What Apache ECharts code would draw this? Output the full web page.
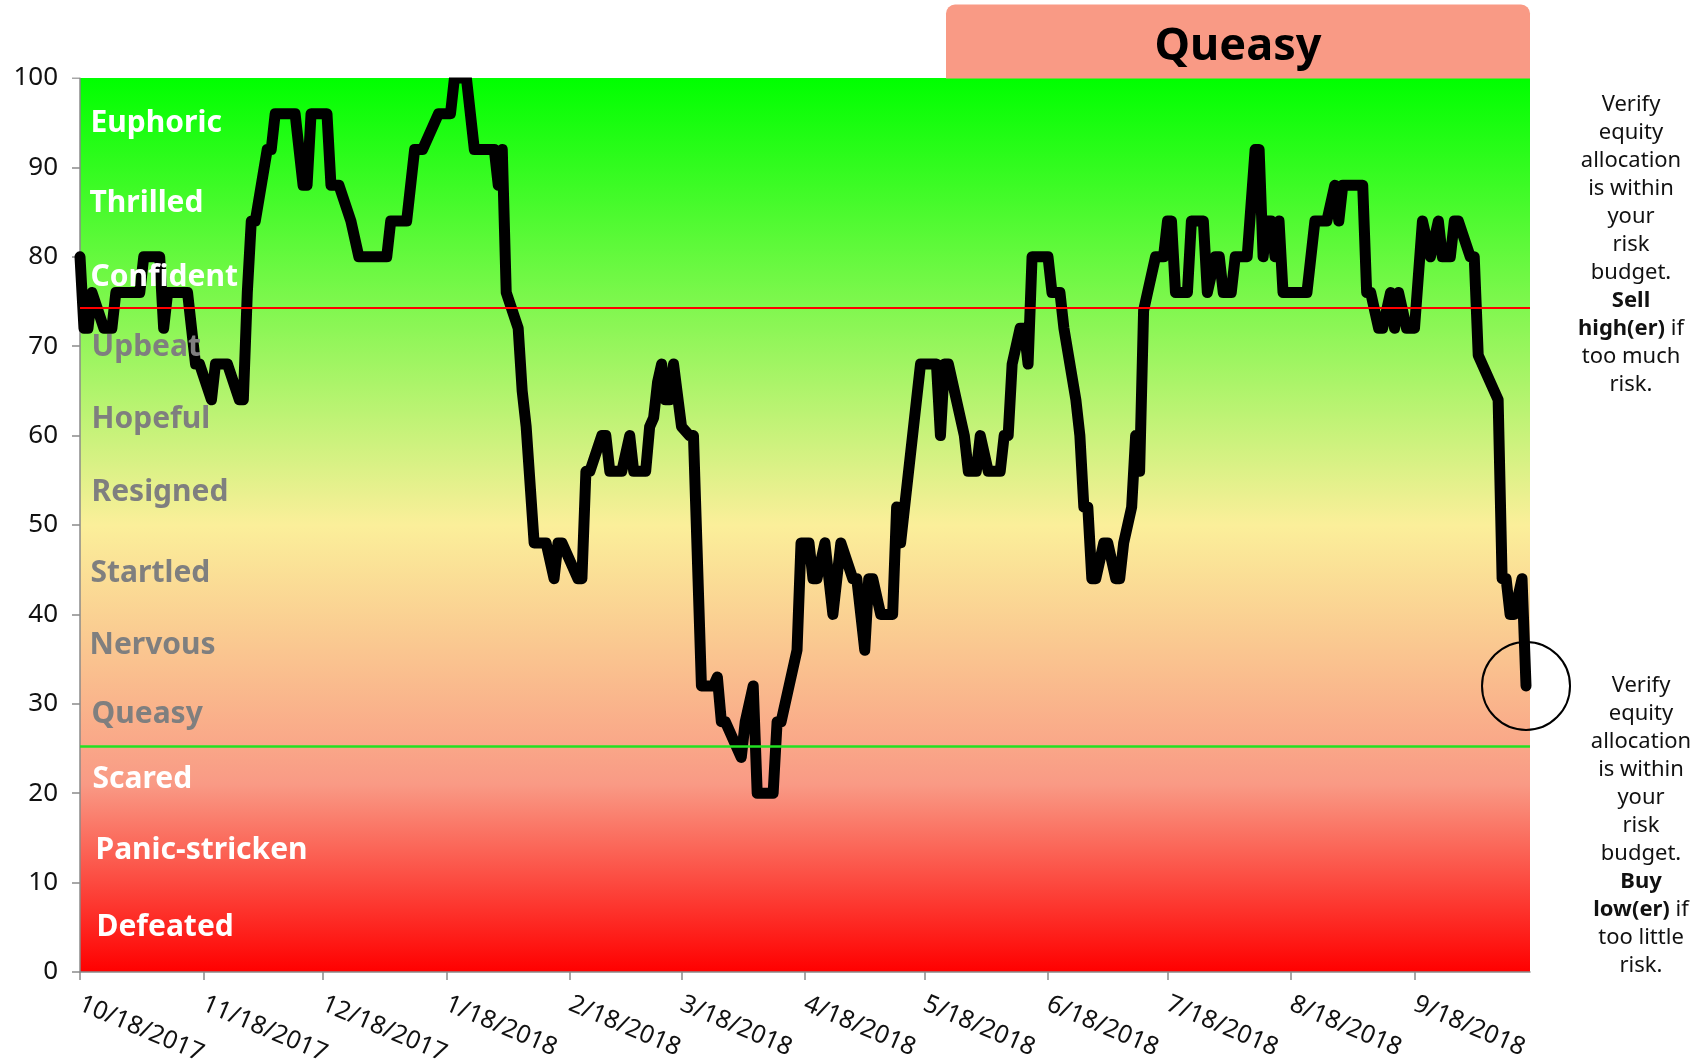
<!DOCTYPE html>
<html>
<head>
<meta charset="utf-8">
<title>Market mood gauge</title>
<script src="https://cdn.jsdelivr.net/npm/echarts@6/dist/echarts.min.js"></script>
<style>
  html, body { margin: 0; padding: 0; background: #ffffff; }
  #chart { width: 1707px; height: 1060px; }
</style>
</head>
<body>
<div id="chart"></div>
<script>
// ---- Data -------------------------------------------------------------
// Turning points of the daily mood reading (0 = fear, 100 = greed)
const readingDates = [
  '10/18/2017','10/19/2017','10/20/2017','10/21/2017','10/24/2017','10/26/2017','10/27/2017',
  '11/2/2017','11/3/2017','11/7/2017','11/8/2017','11/9/2017','11/14/2017','11/16/2017','11/17/2017','11/20/2017','11/21/2017','11/24/2017','11/27/2017','11/28/2017','11/29/2017','11/30/2017',
  '12/1/2017','12/4/2017','12/5/2017','12/6/2017','12/11/2017','12/13/2017','12/14/2017','12/15/2017','12/19/2017','12/20/2017','12/22/2017','12/25/2017','12/27/2017',
  '1/3/2018','1/4/2018','1/8/2018','1/10/2018','1/12/2018','1/16/2018','1/19/2018','1/20/2018','1/23/2018','1/25/2018','1/30/2018','1/31/2018',
  '2/1/2018','2/2/2018','2/5/2018','2/6/2018','2/7/2018','2/9/2018','2/12/2018','2/14/2018','2/15/2018','2/16/2018','2/20/2018','2/21/2018','2/22/2018','2/23/2018','2/26/2018','2/27/2018','2/28/2018',
  '3/3/2018','3/5/2018','3/6/2018','3/9/2018','3/10/2018','3/11/2018','3/12/2018','3/13/2018','3/14/2018','3/15/2018','3/16/2018','3/18/2018','3/20/2018','3/21/2018','3/23/2018','3/26/2018','3/27/2018','3/28/2018','3/29/2018',
  '4/2/2018','4/3/2018','4/5/2018','4/6/2018','4/10/2018','4/11/2018','4/12/2018','4/14/2018','4/16/2018','4/17/2018','4/19/2018','4/20/2018','4/21/2018','4/23/2018','4/25/2018','4/27/2018','4/30/2018',
  '5/1/2018','5/3/2018','5/4/2018','5/5/2018','5/7/2018','5/10/2018','5/11/2018','5/12/2018','5/13/2018','5/15/2018','5/16/2018','5/17/2018','5/21/2018','5/22/2018','5/23/2018','5/24/2018','5/28/2018','5/29/2018','5/31/2018',
  '6/1/2018','6/3/2018','6/6/2018','6/7/2018','6/8/2018','6/9/2018','6/11/2018','6/12/2018','6/13/2018','6/14/2018','6/18/2018','6/19/2018','6/21/2018','6/22/2018','6/25/2018','6/26/2018','6/27/2018','6/28/2018','6/29/2018','6/30/2018',
  '7/2/2018','7/3/2018','7/5/2018','7/6/2018','7/7/2018','7/9/2018','7/10/2018','7/11/2018','7/12/2018','7/13/2018','7/15/2018','7/17/2018','7/18/2018','7/19/2018','7/20/2018','7/23/2018','7/24/2018','7/27/2018','7/28/2018','7/30/2018','7/31/2018',
  '8/1/2018','8/3/2018','8/4/2018','8/7/2018','8/9/2018','8/10/2018','8/11/2018','8/12/2018','8/13/2018','8/14/2018','8/15/2018','8/16/2018','8/22/2018','8/23/2018','8/24/2018','8/27/2018','8/29/2018','8/30/2018','8/31/2018',
  '9/5/2018','9/6/2018','9/7/2018','9/9/2018','9/10/2018','9/12/2018','9/13/2018','9/14/2018','9/16/2018','9/18/2018','9/20/2018','9/22/2018','9/24/2018','9/25/2018','9/27/2018','9/28/2018','9/29/2018',
  '10/2/2018','10/3/2018','10/4/2018','10/7/2018','10/9/2018','10/10/2018','10/11/2018','10/12/2018','10/13/2018','10/15/2018','10/16/2018'
];
const readingScores = [
  80,72,72,76,72,72,76,
  76,80,80,72,76,76,68,68,64,68,68,64,64,76,84,
  84,92,92,96,96,88,88,96,96,88,88,84,80,
  80,84,84,92,92,96,96,100,100,92,92,88,
  92,76,72,65,61,48,48,44,48,48,44,44,56,56,60,60,56,
  56,60,56,56,61,62,66,68,64,64,68,61,60,60,32,32,33,28,28,
  24,28,32,20,20,28,28,32,36,48,48,44,44,48,40,48,44,
  44,36,44,44,40,40,52,48,52,60,64,68,68,60,68,68,60,56,56,
  60,56,56,60,60,68,72,72,68,80,80,76,76,72,64,60,52,52,44,44,
  48,48,44,44,48,52,60,56,74,76,80,80,84,84,76,76,84,84,76,80,80,
  76,76,80,80,92,92,80,84,84,80,84,76,76,80,84,84,88,84,88,
  88,76,76,72,72,76,72,76,72,72,84,80,84,80,80,84,84,
  80,80,69,66,64,44,44,40,40,44,32
];

// Monthly tick labels on the date axis
const tickLabels = [
  '10/18/2017','11/18/2017','12/18/2017','1/18/2018','2/18/2018','3/18/2018',
  '4/18/2018','5/18/2018','6/18/2018','7/18/2018','8/18/2018','9/18/2018'
];
const axisStartDate = '10/18/2017';
const axisEndDate = '10/17/2018';

// Mood scale, top to bottom
const moodNames = [
  'Euphoric','Thrilled','Confident','Upbeat','Hopeful','Resigned',
  'Startled','Nervous','Queasy','Scared','Panic-stricken','Defeated'
];
const currentMood = 'Queasy';

// Band thresholds drawn as reference lines
const upperThreshold = 74.3;
const lowerThreshold = 25.3;

// Side notes
const sellNote = ['Verify','equity','allocation','is within','your','risk','budget.','{b|Sell}','{b|high(er)} if','too much','risk.'];
const buyNote  = ['Verify','equity','allocation','is within','your','risk','budget.','{b|Buy}','{b|low(er)} if','too little','risk.'];

// ---- Layout & style ---------------------------------------------------
const FONT = '"Noto Sans", "Open Sans", sans-serif';
const AXIS_GRAY = '#8a8a8a';
const moodLabelLevels = [94.85, 85.95, 77.65, 69.85, 61.75, 53.55, 44.55, 36.45, 28.75, 21.45, 13.55, 4.95];
const moodLabelInsets = [11, 10, 11, 12, 12, 12, 11, 10, 12, 13, 16, 17];
const moodLabelColors = ['#ffffff','#ffffff','#ffffff','#7f7f7f','#7f7f7f','#7f7f7f',
                         '#7f7f7f','#7f7f7f','#7f7f7f','#ffffff','#ffffff','#ffffff'];

// ---- Build ------------------------------------------------------------
function dayNumber(s) {
  const p = s.split('/').map(Number);
  const q = axisStartDate.split('/').map(Number);
  return Math.round((Date.UTC(p[2], p[0] - 1, p[1]) - Date.UTC(q[2], q[0] - 1, q[1])) / 86400000);
}

const lineData = readingDates.map((d, i) => [dayNumber(d), readingScores[i]]);
const tickDays = tickLabels.map(dayNumber);
const labelByDay = {};
tickDays.forEach((d, i) => { labelByDay[d] = tickLabels[i]; });
const lastReading = lineData[lineData.length - 1];

const chart = echarts.init(document.getElementById('chart'), null, { renderer: 'canvas' });

const noteStyle = (lines, cx, top) => ({
  type: 'text',
  z: 60,
  silent: true,
  style: {
    text: lines.join('\n'),
    x: cx,
    y: top,
    align: 'center',
    verticalAlign: 'top',
    fontFamily: FONT,
    fontSize: 22,
    lineHeight: 28,
    fill: '#111111',
    rich: {
      b: { fontFamily: FONT, fontSize: 22, lineHeight: 28, fontWeight: 'bold', fill: '#111111' }
    }
  }
});

const option = {
  animation: false,
  grid: {
    left: 80,
    right: 177,
    top: 78,
    bottom: 88,
    containLabel: false,
    outerBoundsMode: 'none',
    show: true,
    borderWidth: 0,
    backgroundColor: new echarts.graphic.LinearGradient(0, 0, 0, 1, [
      { offset: 0.00, color: '#00ff00' },
      { offset: 0.50, color: '#fbef9a' },
      { offset: 0.79, color: '#f99a85' },
      { offset: 1.00, color: '#ff0000' }
    ])
  },
  xAxis: {
    type: 'value',
    min: 0,
    max: dayNumber(axisEndDate),
    splitLine: { show: false },
    axisLine: { show: true, onZero: false, lineStyle: { color: AXIS_GRAY, width: 1.5 } },
    axisTick: { show: true, customValues: tickDays, length: 8, lineStyle: { color: AXIS_GRAY, width: 1.5 } },
    axisLabel: {
      customValues: tickDays,
      formatter: v => labelByDay[v] || '',
      rotate: -23,
      margin: 31,
      color: '#111111',
      fontSize: 25,
      fontFamily: FONT
    }
  },
  yAxis: {
    type: 'value',
    min: 0,
    max: 100,
    interval: 10,
    splitLine: { show: false },
    axisLine: { show: true, lineStyle: { color: AXIS_GRAY, width: 1.5 } },
    axisTick: { show: true, length: 8, lineStyle: { color: AXIS_GRAY, width: 1.5 } },
    axisLabel: { margin: 22, color: '#111111', fontSize: 26, fontFamily: FONT }
  },
  series: [
    {
      name: 'Mood',
      type: 'line',
      data: lineData,
      symbol: 'none',
      z: 3,
      lineStyle: { color: '#000000', width: 11, join: 'round', cap: 'round' },
      emphasis: { disabled: true },
      markLine: {
        silent: true,
        symbol: ['none', 'none'],
        label: { show: false },
        data: [
          { yAxis: upperThreshold, lineStyle: { color: '#ff0000', width: 2, type: 'solid' } },
          { yAxis: lowerThreshold, lineStyle: { color: '#22e022', width: 2.5, type: 'solid' } }
        ]
      }
    },
    {
      name: 'Moods',
      type: 'scatter',
      silent: true,
      clip: false,
      z: 8,
      symbol: 'circle',
      symbolSize: 1,
      itemStyle: { color: 'rgba(0,0,0,0)', opacity: 1 },
      data: moodNames.map((name, i) => ({
        name: name,
        value: [0, moodLabelLevels[i]],
        label: { color: moodLabelColors[i], position: [moodLabelInsets[i], 0] }
      })),
      label: {
        show: true,
        formatter: '{b}',
        fontFamily: FONT,
        fontSize: 30,
        fontWeight: 'bold',
        opacity: 1,
        align: 'left',
        verticalAlign: 'middle'
      }
    },
    {
      name: 'Latest',
      type: 'scatter',
      silent: true,
      clip: false,
      z: 9,
      symbol: 'circle',
      symbolSize: 88,
      itemStyle: { color: 'rgba(0,0,0,0)', borderColor: '#000000', borderWidth: 2, opacity: 1 },
      data: [lastReading]
    }
  ],
  graphic: [
    // keeps the heavy line from spilling above the top of the scale
    { type: 'rect', z: 50, silent: true, shape: { x: 70, y: 50, width: 1480, height: 27.4 }, style: { fill: '#ffffff' } },
    { type: 'rect', z: 55, silent: true, shape: { x: 946, y: 4.5, width: 584, height: 74, r: [9, 9, 0, 0] }, style: { fill: '#f99a85' } },
    {
      type: 'text', z: 56, silent: true,
      style: { text: currentMood, x: 1238, y: 47, align: 'center', verticalAlign: 'middle',
               fontFamily: FONT, fontSize: 45, fontWeight: 'bold', fill: '#000000' }
    },
    noteStyle(sellNote, 1631, 90.5),
    noteStyle(buyNote, 1641, 672)
  ]
};

chart.setOption(option);
</script>
</body>
</html>
